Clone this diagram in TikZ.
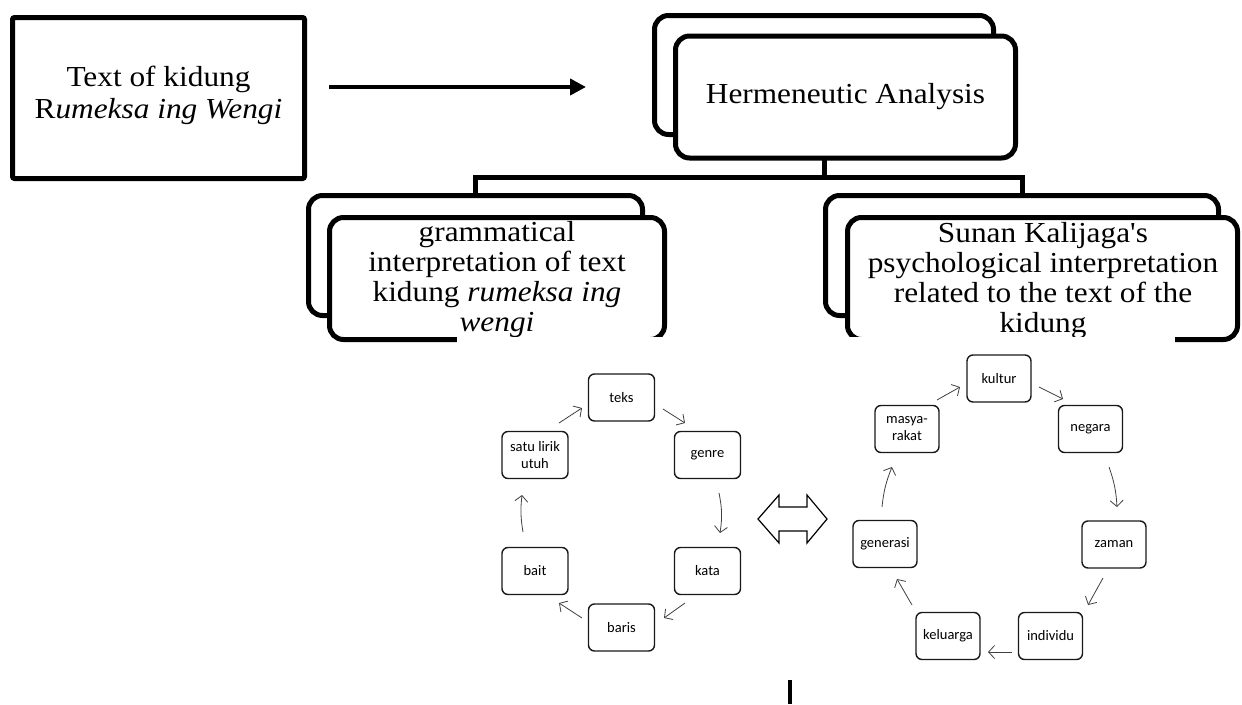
\documentclass[tikz,border=0pt]{standalone}
\usepackage{fontspec}
\setmainfont[FakeStretch=1.08,Ligatures=TeXOff]{Liberation Serif}
\newfontfamily\calib{Carlito}
\usetikzlibrary{arrows.meta,calc}
\begin{document}
\begin{tikzpicture}[x=1pt,y=-1pt,
  plainbox/.style={draw=black,line width=5pt,fill=white,rounded corners=2pt,inner sep=0pt},
  backbox/.style={draw=black,line width=5pt,fill=white,rounded corners=14pt,inner sep=0pt},
  frontbox/.style={draw=black,line width=5pt,fill=white,rounded corners=14pt,inner sep=0pt},
  conn/.style={draw=black,line width=5pt},
  bigarrow/.style={draw=black,line width=4pt,-{Triangle[length=16pt,width=16pt]}},
  bigtext/.style={font=\fontsize{29}{30}\selectfont,align=center,inner sep=0pt},
  cycbox/.style={draw=black!90,line width=1.4pt,fill=white,rounded corners=6pt,minimum width=64pt,minimum height=47pt,inner sep=0pt,align=center,font=\calib\fontsize{14.5}{17}\selectfont},
  cyc/.style={draw=black!75,line width=0.8pt,-{Straight Barb[length=6pt,width=13pt]}},
  mask/.style={fill=white,draw=none}]
\useasboundingbox (0,0) rectangle (1242,704);

% tree connectors (drawn first, boxes cover them)
\coordinate (jn) at (824,177);
\node[minimum width=339pt,minimum height=119pt] (hbpos) at (824,75) {};
\node[minimum width=334pt,minimum height=120pt] (gbpos) at (475.5,255.5) {};
\node[minimum width=393pt,minimum height=120pt] (sbpos) at (1022,255.5) {};
\draw[conn] (hbpos.south) -- (jn);
\draw[conn] (gbpos.north) |- (jn) -| (sbpos.north);

% source box and arrow
\node[plainbox,minimum width=292pt,minimum height=161pt] (src) at (158.5,98) {};
\node[font=\fontsize{29}{32}\selectfont,align=center,inner sep=0pt] (srct) at (158.5,95) {Text of kidung\\R\textit{umeksa ing Wengi}};
\coordinate (arA) at (329,87);
\coordinate (arB) at (586,87);
\draw[bigarrow] (arA) -- (arB);

% Hermeneutic stack
\node[backbox,minimum width=339pt,minimum height=119pt] (hb) at (824,75) {};
\node[frontbox,minimum width=340pt,minimum height=122pt] (hf) at (845.5,97) {};
\node[bigtext] (ht) at (845.5,97) {Hermeneutic Analysis};

% grammatical stack
\node[backbox,minimum width=334pt,minimum height=120pt] (gb) at (475.5,255.5) {};
\node[frontbox,minimum width=335pt,minimum height=122pt] (gf) at (497,278.5) {};
\node[bigtext,anchor=north] (gt) at (497,221) {grammatical\\interpretation of text\\kidung \textit{rumeksa ing}\\\textit{wengi}};
\fill[mask] (457,337) rectangle (672,348);

% Sunan stack
\node[backbox,minimum width=393pt,minimum height=120pt] (sb) at (1022,255.5) {};
\node[frontbox,minimum width=390pt,minimum height=122pt] (sf) at (1042.5,278.5) {};
\node[bigtext,anchor=north] (st) at (1043,222) {Sunan Kalijaga's\\psychological interpretation\\related to the text of the\\kidung};
\fill[mask] (842,337) rectangle (1175,348);

% left cycle
\node[cycbox,minimum width=66pt] (teks) at (621.5,397.5) {teks};
\node[cycbox,minimum width=66pt] (genre) at (707.5,455) {genre};
\node[cycbox,minimum width=66pt] (kata) at (707.5,571) {kata};
\node[cycbox,minimum width=66pt] (baris) at (621.5,627.5) {baris};
\node[cycbox,minimum width=66pt] (bait) at (535,571) {bait};
\node[cycbox,minimum width=66pt] (satu) at (535,455) {satu lirik\\utuh};

\coordinate (c1a) at (559,423); \coordinate (c1b) at (582,408);
\coordinate (c2a) at (663,409); \coordinate (c2b) at (685,423);
\coordinate (c3a) at (719,493); \coordinate (c3b) at (720,533);
\coordinate (c4a) at (685,603); \coordinate (c4b) at (664,618);
\coordinate (c5a) at (582,618); \coordinate (c5b) at (559,603);
\coordinate (c6a) at (523,532); \coordinate (c6b) at (522,495);
\draw[cyc] (c1a) -- (c1b);
\draw[cyc] (c2a) -- (c2b);
\draw[cyc] (c3a) to[bend left=10] (c3b);
\draw[cyc] (c4a) -- (c4b);
\draw[cyc] (c5a) -- (c5b);
\draw[cyc] (c6a) to[bend left=8] (c6b);

% double arrow
\draw[draw=black,line width=1.2pt,line join=miter]
  (758,519) -- (779,495) -- (779,507) -- (807,507) -- (807,495) -- (827,519)
  -- (807,543) -- (807,531) -- (779,531) -- (779,543) -- cycle;

% right cycle
\node[cycbox] (kultur) at (999,378.5) {kultur};
\node[cycbox] (negara) at (1090.5,429) {negara};
\node[cycbox] (zaman) at (1114,544.5) {zaman};
\node[cycbox] (individu) at (1050.5,636) {individu};
\node[cycbox] (keluarga) at (948,636) {keluarga};
\node[cycbox] (generasi) at (885,544) {generasi};
\node[cycbox] (masya) at (907,429) {masya-\\rakat};

\coordinate (d1a) at (937,400); \coordinate (d1b) at (960,387);
\coordinate (d2a) at (1039,387); \coordinate (d2b) at (1063,399);
\coordinate (d3a) at (1109,467); \coordinate (d3b) at (1117,507);
\coordinate (d4a) at (1103,578); \coordinate (d4b) at (1088,605);
\coordinate (d5a) at (1012,652); \coordinate (d5b) at (988,652);
\coordinate (d6a) at (912,605); \coordinate (d6b) at (897,579);
\coordinate (d7a) at (882,507); \coordinate (d7b) at (892,467);
\draw[cyc] (d1a) -- (d1b);
\draw[cyc] (d2a) -- (d2b);
\draw[cyc] (d3a) to[bend left=8] (d3b);
\draw[cyc] (d4a) -- (d4b);
\draw[cyc] (d5a) -- (d5b);
\draw[cyc] (d6a) -- (d6b);
\draw[cyc] (d7a) to[bend left=8] (d7b);

% bottom bar
\fill[black] (788,680) rectangle (792,704);
\end{tikzpicture}
\end{document}
